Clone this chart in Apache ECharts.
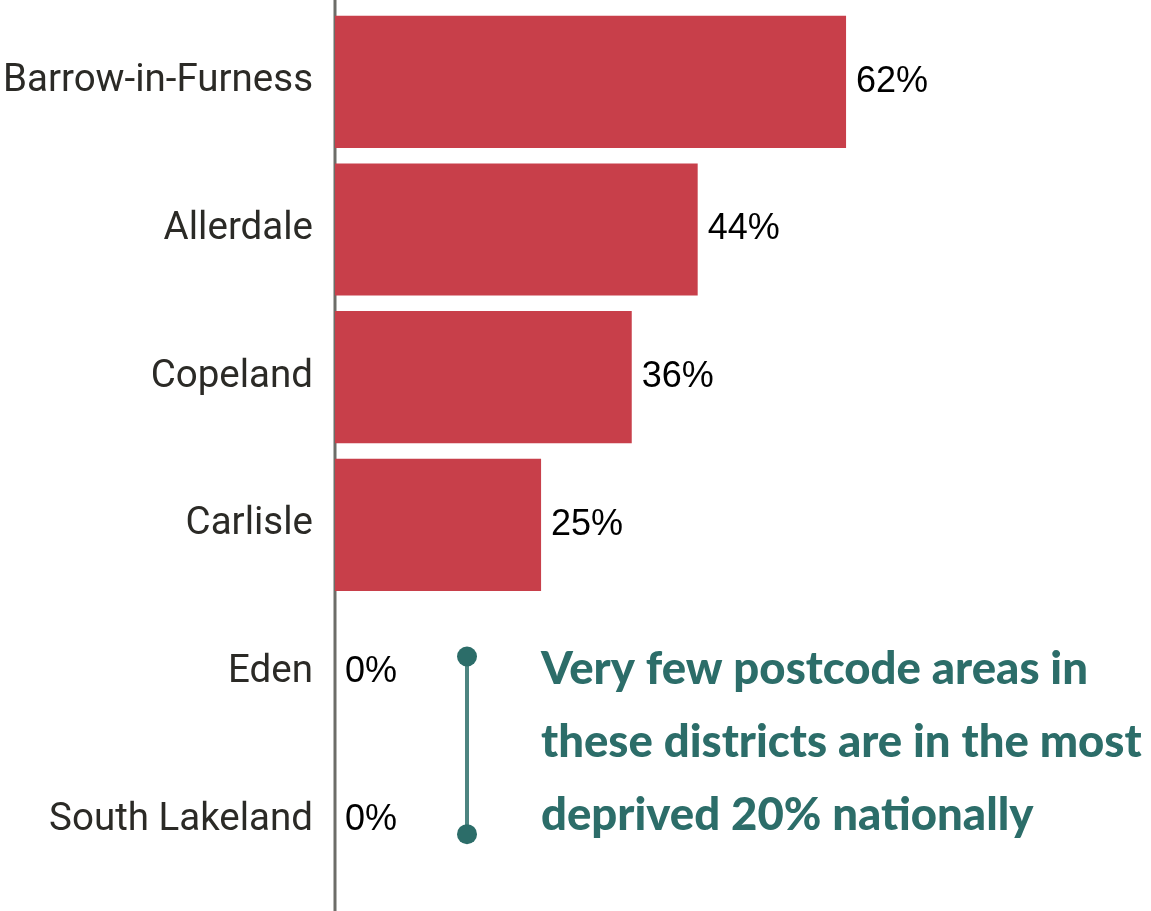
<!DOCTYPE html>
<html>
<head>
<meta charset="utf-8">
<script src="https://cdn.jsdelivr.net/npm/echarts@6/dist/echarts.min.js"></script>
<style>
  html, body { margin: 0; padding: 0; background: #ffffff; }
  #chart { width: 1151px; height: 911px; }
</style>
</head>
<body>
<div id="chart"></div>
<script>
// Share of postcode areas in the most deprived 20% nationally, by Cumbrian district
const districts = ['Barrow-in-Furness', 'Allerdale', 'Copeland', 'Carlisle', 'Eden', 'South Lakeland'];
const deprivedShare = [62, 44, 36, 25, 0, 0];
const noteLines = [
  'Very few postcode areas in',
  'these districts are in the most',
  'deprived 20% nationally'
];

const RED = '#c83f4a';
const TEAL = '#2c6d69';

const chart = echarts.init(document.getElementById('chart'));

chart.setOption({
  animation: false,
  backgroundColor: '#ffffff',
  grid: { left: 335, top: 8, width: 577, height: 886, containLabel: false },
  xAxis: {
    type: 'value',
    min: 0,
    max: 70,
    show: false
  },
  yAxis: {
    type: 'category',
    data: districts,
    inverse: true,
    axisLine: { show: false },
    axisTick: { show: false },
    splitLine: { show: false },
    axisLabel: {
      margin: 22,
      fontFamily: 'Roboto',
      fontSize: 38.5,
      color: '#2b2a26'
    }
  },
  series: [{
    type: 'bar',
    data: deprivedShare,
    barCategoryGap: '10.5%',
    itemStyle: { color: RED },
    label: {
      show: true,
      position: 'right',
      distance: 10,
      formatter: '{c}%',
      fontFamily: '"Liberation Sans", Arial, sans-serif',
      fontSize: 36,
      color: '#000000'
    }
  }]
});

// Vertical axis rule running the full height of the page
const axisX = chart.convertToPixel({ xAxisIndex: 0 }, 0);
// Bracket spanning the two districts with no deprived areas
const yTop = chart.convertToPixel({ yAxisIndex: 0 }, 'Eden') - 16;
const yBot = chart.convertToPixel({ yAxisIndex: 0 }, 'South Lakeland') + 14;
const bracketX = 467;
const textX = 541;

const noteTexts = noteLines.map((line, i) => ({
  type: 'text',
  x: textX,
  y: 669 + i * 73,
  style: {
    text: line,
    fill: TEAL,
    font: '900 45.5px Lato',
    textVerticalAlign: 'middle'
  }
}));

chart.setOption({
  graphic: [
    {
      type: 'line',
      shape: { x1: axisX, y1: 0, x2: axisX, y2: 911 },
      style: { stroke: '#6d6d68', lineWidth: 3 }
    },
    {
      type: 'line',
      shape: { x1: bracketX, y1: yTop, x2: bracketX, y2: yBot },
      style: { stroke: '#4d8581', lineWidth: 4 }
    },
    { type: 'circle', shape: { cx: bracketX, cy: yTop, r: 10 }, style: { fill: TEAL } },
    { type: 'circle', shape: { cx: bracketX, cy: yBot, r: 10 }, style: { fill: TEAL } }
  ].concat(noteTexts)
});
</script>
</body>
</html>
